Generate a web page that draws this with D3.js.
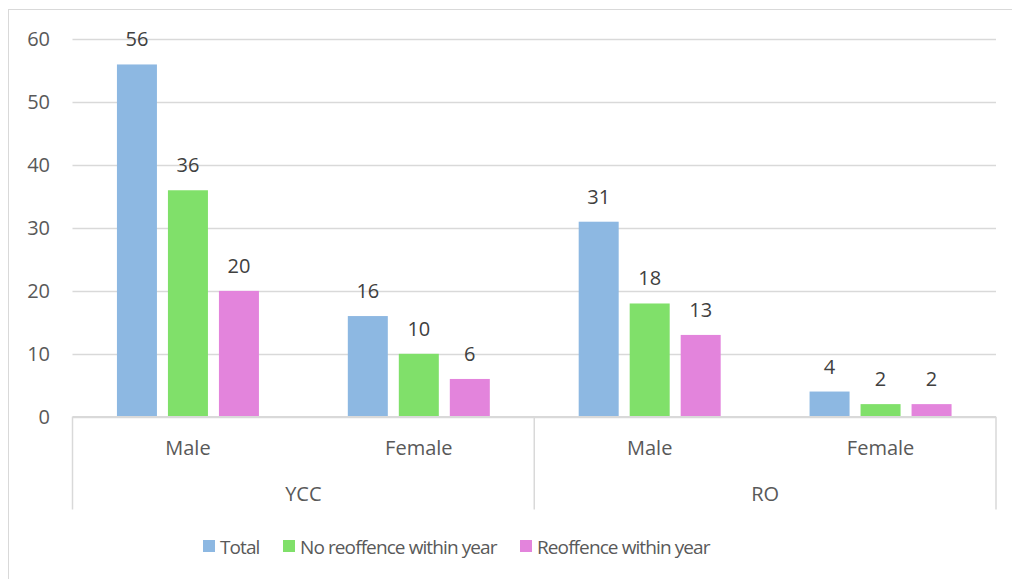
<!DOCTYPE html>
<html>
<head>
<meta charset="utf-8">
<script src="https://cdn.jsdelivr.net/npm/d3@7"></script>
<style>
  body { margin: 0; background: #fff; }
  text { font-family: "Open Sans", sans-serif; }
</style>
</head>
<body>
<div id="chart"></div>
<script>
// data
var groups = ["YCC", "RO"];
var genders = ["Male", "Female"];
var seriesNames = ["Total", "No reoffence within year", "Reoffence within year"];
var totalVals = [56, 16, 31, 4];
var noReoffVals = [36, 10, 18, 2];
var reoffVals = [20, 6, 13, 2];
var yTicks = [0, 10, 20, 30, 40, 50, 60];
var colors = ["#8db8e2", "#80e06a", "#e384dc"];

var width = 1012, height = 579;
var plotLeft = 72.5, plotRight = 996, plotTop = 39.3, plotBottom = 416.7;

var svg = d3.select("#chart").append("svg")
    .attr("width", width)
    .attr("height", height);

// chart border
svg.append("rect")
    .attr("x", 8.5).attr("y", 9.5)
    .attr("width", 1010).attr("height", 600)
    .attr("fill", "none").attr("stroke", "#d9d9d9");

// build category table
var cats = [];
groups.forEach(function(g) {
  genders.forEach(function(s) { cats.push(g + "|" + s); });
});
var seriesVals = [totalVals, noReoffVals, reoffVals];

var x0 = d3.scaleBand().domain(cats).range([plotLeft, plotRight]);
var x1 = d3.scaleBand().domain(seriesNames).range([0, 153])
    .paddingInner(11 / 51).paddingOuter(5.5 / 51);
var y = d3.scaleLinear().domain([0, 60]).range([plotBottom, plotTop]);

// gridlines
svg.append("g").selectAll("line")
  .data(yTicks)
  .enter().append("line")
    .attr("x1", plotLeft).attr("x2", plotRight)
    .attr("y1", function(d) { return Math.round(y(d)) + 0.5; })
    .attr("y2", function(d) { return Math.round(y(d)) + 0.5; })
    .attr("stroke", "#d9d9d9").attr("stroke-width", 1.5);

// y labels
svg.append("g").selectAll("text")
  .data(yTicks)
  .enter().append("text")
    .attr("x", 50)
    .attr("y", function(d) { return y(d) + 7; })
    .attr("text-anchor", "end")
    .attr("font-size", 20)
    .attr("fill", "#595959")
    .text(function(d) { return d; });

// bars
var barData = [];
cats.forEach(function(c, i) {
  seriesNames.forEach(function(s, j) {
    barData.push({cat: c, series: s, value: seriesVals[j][i], color: colors[j]});
  });
});

var bx = function(d) {
  return x0(d.cat) + x0.bandwidth() / 2 - 76.5 + x1(d.series);
};

svg.append("g").selectAll("rect")
  .data(barData)
  .enter().append("rect")
    .attr("x", bx)
    .attr("y", function(d) { return y(d.value); })
    .attr("width", x1.bandwidth())
    .attr("height", function(d) { return y(0) - y(d.value); })
    .attr("fill", function(d) { return d.color; });

// value labels
svg.append("g").selectAll("text")
  .data(barData)
  .enter().append("text")
    .attr("x", function(d) { return bx(d) + x1.bandwidth() / 2; })
    .attr("y", function(d) { return y(d.value) - 18; })
    .attr("text-anchor", "middle")
    .attr("font-size", 20)
    .attr("fill", "#404040")
    .text(function(d) { return d.value; });

// category axis
var axis = svg.append("g").attr("stroke", "#d9d9d9").attr("stroke-width", 1.5);
axis.append("line")
    .attr("x1", plotLeft).attr("x2", plotRight)
    .attr("y1", y(0)).attr("y2", y(0));
[plotLeft, x0(cats[2]), plotRight].forEach(function(xv) {
  axis.append("line")
    .attr("x1", xv).attr("x2", xv)
    .attr("y1", y(0)).attr("y2", 509.5);
});

svg.append("g").selectAll("text")
  .data(cats)
  .enter().append("text")
    .attr("x", function(d) { return x0(d) + x0.bandwidth() / 2; })
    .attr("y", 455)
    .attr("text-anchor", "middle")
    .attr("font-size", 20)
    .attr("fill", "#595959")
    .text(function(d) { return d.split("|")[1]; });

svg.append("g").selectAll("text")
  .data(groups)
  .enter().append("text")
    .attr("x", function(d) {
      return (x0(d + "|" + genders[0]) + x0(d + "|" + genders[1]) + x0.bandwidth()) / 2;
    })
    .attr("y", 501)
    .attr("text-anchor", "middle")
    .attr("font-size", 20)
    .attr("fill", "#595959")
    .text(function(d) { return d; });

// legend
var legendX = [203, 283, 520];
var legend = svg.append("g").selectAll("g")
  .data(seriesNames)
  .enter().append("g")
    .attr("transform", function(d, i) { return "translate(" + legendX[i] + ",540)"; });
legend.append("rect")
    .attr("width", 12).attr("height", 12)
    .attr("fill", function(d, i) { return colors[i]; });
legend.append("text")
    .attr("x", 17).attr("y", 13.5)
    .attr("font-size", 19)
    .attr("letter-spacing", -0.9)
    .attr("fill", "#595959")
    .text(function(d) { return d; });
</script>
</body>
</html>
